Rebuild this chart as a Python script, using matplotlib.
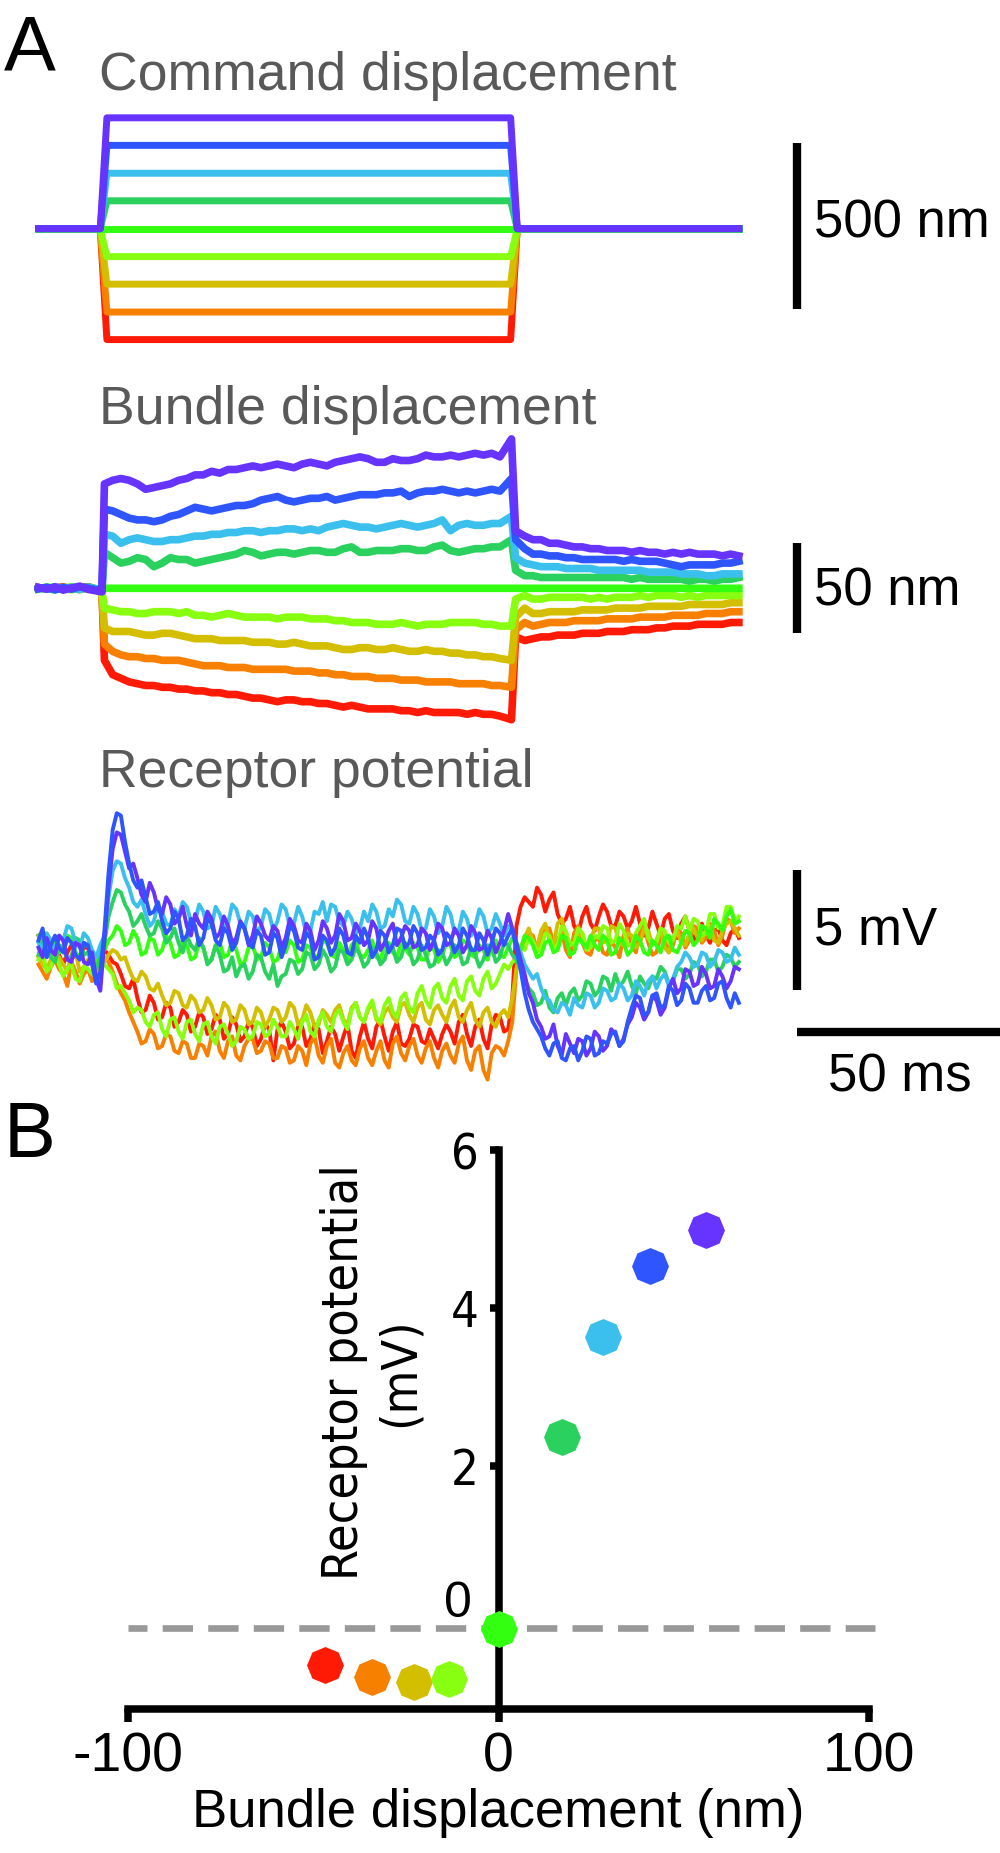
import numpy as np
import matplotlib.pyplot as plt

plt.rcParams['font.family'] = ['Liberation Sans', 'DejaVu Sans']

W, H = 1000, 1853

# trace colours, from the largest positive step (top) to the largest negative
colors = ['#6633ff', '#2f55ff', '#3bc0ee', '#2bd15e', '#33ff10',
          '#88ff10', '#d4be00', '#f78000', '#ff1a05']

# command displacement: step levels (nm) and step timing (ms)
cmd_levels = [334, 251, 167, 84, 0, -84, -167, -251, -334]
cmd_t = [0, 15.0, 16.6, 114.6, 116.2, 170]

# bundle displacement (nm), sampled every 2 ms (samples moved onto the step edges)
t_bd = np.arange(0, 171, 2.0)
t_bd[7] = 15.4
t_bd[57:59] = [114.8, 115.8]

bd_purple = [
    0.5, -0.5, 0.8, -1.0, 0.2, 1.2, -0.6, -2.0, 58, 60,
    61, 60, 58, 55, 56, 57, 58, 60, 61, 63,
    63, 65, 64, 66, 66, 67, 68, 67, 68, 69,
    68, 67, 69, 70, 69, 68, 70, 71, 72, 73,
    72, 70, 70, 72, 71, 71, 72, 74, 73, 73,
    74, 73, 74, 75, 74, 75, 73, 83, 32, 29,
    27, 27, 25, 25, 24, 23, 23, 22, 22, 21,
    21, 21, 20, 21, 20, 20, 19, 20, 19, 20,
    19, 19, 19, 18, 19, 18]
bd_blue = [
    -0.3, 0.6, -0.8, 0.4, -0.5, 0.9, 0.1, -1.5, 44, 43,
    41, 39, 38, 38, 37, 38, 40, 41, 43, 45,
    44, 43, 44, 45, 46, 46, 47, 49, 50, 51,
    49, 48, 49, 50, 50, 51, 49, 50, 51, 52,
    52, 52, 53, 53, 54, 51, 53, 54, 54, 55,
    54, 53, 54, 53, 54, 55, 54, 61, 27, 22,
    19, 19, 18, 18, 17, 17, 16, 16, 16, 16,
    16, 15, 16, 15, 15, 15, 14, 13, 12, 13,
    13, 13, 13, 14, 14, 15]
bd_lblue = [
    0.2, -0.4, 0.9, -0.2, 0.5, -0.7, 0.6, -1.2, 30, 29,
    25, 27, 28, 27, 26, 26, 27, 27, 28, 29,
    29, 30, 30, 31, 31, 32, 32, 31, 32, 32,
    33, 33, 32, 33, 32, 34, 35, 36, 35, 34,
    34, 33, 34, 35, 36, 35, 34, 35, 36, 38,
    32, 35, 36, 35, 35, 36, 36, 40, 17, 14,
    13, 12, 12, 12, 11, 11, 11, 11, 10, 10,
    10, 10, 10, 10, 9, 9, 9, 9, 8, 8,
    8, 7, 7, 8, 8, 8]
bd_green = [
    0.4, -0.2, -0.9, 0.6, 0.0, -0.5, 0.8, -1.0, 20, 17,
    14, 15, 17, 16, 12, 14, 17, 16, 16, 14,
    15, 16, 17, 18, 19, 21, 20, 18, 19, 20,
    20, 19, 20, 21, 21, 20, 20, 22, 23, 20,
    20, 21, 21, 21, 22, 22, 21, 21, 23, 24,
    21, 20, 21, 22, 22, 23, 23, 27, 10, 7,
    7, 6, 6, 6, 6, 6, 6, 6, 6, 6,
    6, 6, 5, 6, 5, 5, 5, 5, 5, 4,
    5, 5, 4, 5, 5, 6]
bd_bgreen = [
    -0.4, 0.7, 0.1, -0.6, 0.8, -0.2, 0.3, -1.2, 0, 0,
    0, 0, 0, 0, 0, 0, 0, 0, 0, 0,
    0, 0, 0, 0, 0, 0, 0, 0, 0, 0,
    0, 0, 0, 0, 0, 0, 0, 0, 0, 0,
    0, 0, 0, 0, 0, 0, 0, 0, 0, 0,
    0, 0, 0, 0, 0, 0, 0, 0, 0, 0,
    0, 0, 0, 0, 0, 0, 0, 0, 0, 0,
    0, 0, 0, 0, 0, 0, 0, 0, 0, 0,
    0, 0, 0, 0, 0, 0]
bd_ygreen = [
    0.3, -0.6, 0.5, -0.3, -0.8, 0.4, -0.2, -1.8, -11, -12,
    -13, -13, -14, -14, -13, -13, -13, -14, -13, -15,
    -15, -16, -15, -14, -15, -16, -16, -16, -16, -17,
    -16, -16, -16, -17, -17, -17, -18, -18, -19, -19,
    -19, -20, -20, -20, -19, -20, -21, -20, -20, -20,
    -19, -19, -19, -19, -20, -20, -21, -21, -6, -4,
    -6, -6, -5, -5, -5, -5, -5, -6, -5, -6,
    -5, -5, -5, -4, -5, -4, -4, -4, -5, -4,
    -5, -4, -4, -4, -4, -4]
bd_olive = [
    -0.2, 0.5, -0.7, 0.2, 0.6, -0.4, 0.1, -2.0, -22, -24,
    -24, -24, -25, -26, -26, -25, -25, -26, -27, -28,
    -28, -28, -29, -29, -29, -29, -30, -30, -30, -31,
    -31, -30, -31, -32, -32, -32, -33, -34, -34, -33,
    -33, -34, -34, -33, -34, -35, -35, -34, -35, -35,
    -36, -36, -37, -37, -38, -38, -39, -40, -16, -11,
    -14, -14, -13, -13, -13, -13, -12, -12, -12, -12,
    -11, -11, -11, -11, -10, -10, -10, -10, -10, -9,
    -9, -9, -9, -9, -8, -8]
bd_orange = [
    0.1, -0.3, 0.7, -0.5, 0.3, -0.8, 0.4, -1.6, -31, -35,
    -37, -38, -38, -39, -39, -40, -40, -40, -41, -42,
    -43, -43, -43, -44, -44, -44, -45, -45, -45, -45,
    -45, -46, -46, -46, -47, -47, -48, -48, -49, -49,
    -49, -50, -50, -50, -51, -51, -51, -52, -52, -52,
    -52, -53, -53, -53, -53, -54, -54, -55, -23, -19,
    -21, -20, -19, -19, -19, -18, -18, -18, -18, -17,
    -17, -17, -17, -16, -16, -16, -16, -15, -15, -15,
    -15, -14, -14, -14, -13, -13]
bd_red = [
    0.4, -0.2, 0.3, 0.8, -0.4, 0.2, 0.9, -1.4, -40, -48,
    -50, -52, -53, -54, -54, -55, -55, -56, -56, -57,
    -57, -58, -58, -59, -59, -60, -61, -61, -62, -63,
    -62, -62, -63, -63, -64, -64, -65, -66, -65, -66,
    -67, -67, -67, -67, -68, -68, -69, -68, -69, -69,
    -69, -69, -70, -69, -70, -70, -71, -73, -27, -29,
    -28, -27, -27, -26, -26, -26, -25, -25, -25, -24,
    -24, -24, -23, -23, -23, -22, -22, -21, -21, -21,
    -20, -20, -20, -20, -19, -19]

# receptor potential (mV), sampled every 1 ms
t_rp = np.arange(0, 171, 1.0)

rp_purple = [
    0.1, -0.3, 0.5, 0.0, -0.2, 0.6, 0.4, -0.4, -0.5, 0.3,
    0.2, -0.5, -0.6, -0.1, -1.2, -1.7, 0.4, 2.6, 4.2, 4.9,
    4.8, 4.1, 3.4, 3.6, 3.0, 2.3, 2.0, 2.8, 2.4, 1.7,
    1.5, 2.2, 1.9, 1.1, 1.3, 1.8, 1.0, 0.6, 1.5, 1.1,
    0.9, 1.6, 1.3, 0.5, 0.7, 1.4, 1.0, 0.3, 0.5, 1.2,
    0.9, 0.2, 0.6, 1.4, 1.1, 0.6, 0.4, 1.0, 0.8, 0.1,
    0.5, 1.3, 1.0, 0.4, 0.3, 1.1, 0.8, 0.0, 0.4, 1.2,
    0.9, 0.3, 0.6, 1.5, 1.2, 0.4, 0.5, 1.1, 0.8, 0.2,
    0.4, 1.2, 0.9, 0.0, 0.3, 0.8, 1.1, 0.2, 0.5, 1.0,
    0.8, 0.1, 0.2, 0.9, 0.7, 0.0, 0.4, 1.1, 0.9, 0.2,
    0.3, 0.9, 0.6, -0.1, 0.2, 1.0, 0.7, 0.0, 0.1, 0.8,
    0.5, -0.1, 0.3, 0.8, 1.5, 0.9, 0.3, -0.4, -1.0, -1.8,
    -2.2, -2.9, -3.2, -3.7, -3.6, -3.1, -4.0, -4.4, -3.5, -3.9,
    -4.3, -3.7, -3.8, -4.4, -4.1, -3.4, -3.6, -4.2, -4.0, -3.3,
    -3.5, -4.0, -3.7, -3.1, -2.8, -2.2, -2.4, -2.9, -2.6, -1.9,
    -2.1, -2.7, -2.4, -1.6, -1.2, -1.8, -1.6, -0.8, -0.9, -1.5,
    -1.4, -0.7, -1.0, -1.6, -1.5, -0.8, -1.1, -1.6, -1.3, -0.7,
    -0.8]
rp_blue = [
    0.4, 0.9, -0.3, 0.2, 0.6, 0.1, -0.1, 0.5, 0.3, -0.2,
    -0.4, 0.3, 0.2, -0.6, -1.4, -0.9, 0.8, 3.2, 5.0, 5.7,
    5.6, 4.5, 3.6, 2.9, 2.6, 2.9, 2.2, 1.5, 1.6, 2.0,
    1.2, 0.7, 0.9, 1.6, 1.3, 0.4, 0.6, 1.3, 1.0, 0.2,
    0.5, 1.3, 1.1, 0.4, 0.2, 0.9, 0.7, 0.0, 0.3, 1.1,
    0.9, 0.3, 0.1, 0.8, 0.6, -0.2, -0.1, 0.7, 0.5, -0.3,
    0.2, 1.0, 0.8, 0.1, 0.0, 0.7, 0.5, -0.4, -0.3, 0.6,
    0.4, -0.2, 0.1, 0.9, 0.6, -0.1, -0.2, 0.6, 0.3, 0.9,
    0.5, -0.3, 0.0, 0.8, 0.6, -0.1, 0.2, 0.9, 0.8, 0.1,
    0.3, 1.0, 0.7, 0.0, 0.1, 0.6, 0.4, -0.2, 0.0, 0.7,
    0.5, -0.1, 0.2, 0.9, 0.6, 0.0, 0.0, 0.7, 0.4, -0.2,
    0.3, 0.9, 0.7, 0.2, 0.6, 0.9, 0.0, -0.8, -1.8, -2.5,
    -3.0, -3.3, -3.6, -4.1, -4.4, -3.9, -3.8, -4.5, -4.6, -4.1,
    -4.0, -4.6, -4.2, -3.6, -3.7, -4.4, -4.3, -3.8, -3.9, -3.5,
    -3.4, -4.0, -3.8, -3.0, -2.4, -1.9, -2.0, -2.7, -2.6, -1.9,
    -1.8, -2.4, -2.3, -1.5, -1.7, -2.3, -2.1, -1.4, -1.6, -2.2,
    -2.2, -1.7, -1.5, -2.1, -2.0, -1.4, -1.3, -2.0, -2.4, -1.8,
    -2.2]
rp_lblue = [
    0.3, -0.1, 0.7, 0.4, 0.0, 0.6, 0.4, 1.0, 0.9, 0.3,
    0.1, 0.7, 0.5, 0.0, -0.3, 0.2, 0.6, 2.2, 3.3, 3.7,
    3.6, 3.0, 2.6, 2.0, 1.8, 2.1, 1.5, 1.0, 1.2, 1.9,
    1.6, 1.1, 1.0, 1.7, 1.4, 2.0, 1.8, 1.2, 1.2, 1.9,
    1.6, 0.9, 1.0, 1.8, 1.5, 0.9, 1.1, 1.9, 1.7, 1.1,
    0.9, 1.6, 1.4, 0.7, 1.0, 1.7, 1.5, 0.8, 1.2, 1.9,
    1.7, 1.0, 1.1, 1.8, 1.4, 0.7, 0.8, 1.6, 1.5, 2.0,
    1.2, 1.9, 1.8, 1.2, 1.0, 1.6, 1.3, 0.7, 0.9, 1.6,
    1.2, 1.9, 1.6, 0.9, 1.0, 1.7, 1.4, 2.1, 1.9, 1.2,
    1.1, 1.8, 1.5, 0.8, 0.9, 1.7, 1.4, 0.7, 1.0, 1.8,
    1.5, 0.7, 0.8, 1.6, 1.3, 0.6, 1.0, 1.7, 1.4, 0.7,
    0.9, 1.5, 1.1, 0.6, 1.0, 0.8, 0.2, -0.1, -0.6, -0.9,
    -1.2, -1.0, -1.6, -2.0, -2.1, -2.5, -2.6, -2.2, -2.3, -2.7,
    -2.0, -2.3, -2.4, -1.8, -1.9, -2.4, -2.2, -1.6, -1.7, -2.1,
    -2.0, -1.4, -1.6, -2.1, -1.9, -1.3, -1.5, -1.9, -1.3, -1.1,
    -1.6, -1.2, -1.0, -1.5, -1.2, -0.7, -0.5, -0.1, -0.3, -0.7,
    -0.6, -0.1, -0.2, -0.7, -0.5, 0.0, -0.1, -0.5, -0.4, 0.1,
    -0.2]
rp_green = [
    -0.2, 0.4, 0.3, -0.3, -0.5, 0.2, 0.1, -0.4, -0.3, 0.5,
    0.4, -0.2, -0.1, -0.6, -0.8, -0.3, 0.3, 1.4, 2.0, 2.5,
    2.4, 1.9, 1.6, 1.0, 1.2, 1.5, 1.0, 0.6, 0.7, 1.2,
    0.9, 0.3, 0.5, 0.9, 0.3, -0.1, 0.6, 0.2, 0.0, 0.5,
    0.1, -0.6, -0.4, 0.2, -0.2, -0.9, -0.8, -0.3, -1.1, -0.7,
    -0.6, -1.2, -0.9, -0.2, -0.3, -0.9, -1.2, -0.6, -1.5, -1.1,
    -1.0, -0.4, -0.5, -1.0, -0.8, -0.1, -0.2, -0.8, -0.6, 0.0,
    -0.3, -0.9, -0.7, 0.0, -0.1, -0.6, -0.4, 0.1, -0.2, -0.7,
    -0.5, 0.1, -0.1, -0.6, -0.4, 0.2, 0.1, -0.5, -0.3, 0.3,
    0.0, -0.6, -0.4, 0.2, -0.2, -0.7, -0.6, 0.0, -0.1, -0.6,
    -0.3, 0.2, 0.0, -0.6, -0.5, 0.1, -0.2, -0.7, -0.4, 0.2,
    0.1, -0.5, -0.3, 0.3, 0.2, -0.2, -0.4, -0.8, -1.2, -1.6,
    -1.8, -2.3, -2.2, -1.7, -2.4, -2.6, -2.0, -1.8, -2.3, -1.8,
    -1.6, -2.1, -1.9, -1.3, -1.4, -1.9, -1.7, -1.1, -1.2, -1.7,
    -1.0, -1.5, -1.3, -0.9, -1.5, -1.8, -1.1, -1.4, -1.6, -1.1,
    -1.2, -0.7, -0.9, -1.4, -1.3, -0.8, -0.8, -1.2, -1.0, -0.5,
    -0.6, -1.1, -0.9, -0.4, -0.4, -0.9, -0.7, -0.2, -0.3, -0.7,
    -0.5]
rp_bgreen = [
    0.6, 0.1, -0.2, 0.3, 0.4, -0.1, 0.0, 0.6, 0.5, -0.1,
    -0.3, 0.3, 0.2, -0.3, -0.5, 0.1, 0.0, 0.4, 0.6, 1.0,
    0.8, 0.2, 0.3, 0.8, 0.5, -0.2, -0.1, 0.5, 0.4, -0.2,
    0.0, 0.6, 0.3, -0.3, -0.2, 0.4, 0.2, -0.4, -0.3, 0.3,
    0.1, -0.5, -0.4, 0.2, 0.3, -0.3, -0.2, 0.4, 0.0, -0.6,
    -0.5, 0.1, 0.2, -0.4, -0.3, 0.3, 0.1, -0.5, -0.4, 0.2,
    -0.1, 0.4, 0.2, -0.5, -0.4, 0.2, 0.1, -0.4, -0.2, 0.4,
    0.3, -0.2, -0.3, 0.3, 0.0, -0.4, 0.2, 0.4, -0.2, -0.3,
    0.0, 0.4, -0.3, -0.4, 0.2, 0.3, -0.1, -0.3, 0.3, 0.1,
    -0.2, 0.3, 0.1, -0.4, -0.4, 0.2, 0.0, -0.5, -0.2, 0.3,
    0.2, -0.3, -0.1, 0.4, 0.3, -0.2, -0.3, 0.2, 0.0, -0.4,
    0.2, 0.4, -0.2, -0.3, 0.1, 0.5, 0.3, 0.0, 0.6, 0.5,
    0.2, -0.3, -0.2, 0.3, 0.4, -0.1, 0.0, 0.6, 0.5, -0.2,
    -0.1, 0.5, 0.3, 0.1, 0.6, 0.2, 0.0, 0.6, 0.4, -0.2,
    -0.1, 0.5, 0.3, -0.2, 0.0, 0.6, 0.4, -0.1, -0.2, 0.4,
    0.2, -0.1, 0.5, 0.6, 0.0, -0.1, 0.3, 0.8, 0.7, 0.2,
    0.4, 1.0, 0.9, 0.5, 1.3, 1.1, 0.8, 1.4, 1.7, 1.1,
    1.2]
rp_ygreen = [
    -0.4, -0.1, -0.9, -0.7, -0.2, -0.6, -1.1, -0.8, -0.6, -1.2,
    -1.3, -0.7, -0.8, -1.0, -0.5, -0.4, -0.6, -0.8, -1.0, -1.6,
    -1.5, -1.8, -2.1, -2.6, -2.4, -2.5, -3.0, -3.2, -2.7, -2.6,
    -3.3, -3.6, -2.9, -2.8, -3.4, -3.7, -3.0, -2.9, -3.5, -3.8,
    -3.1, -3.0, -3.6, -3.9, -3.2, -3.1, -3.5, -4.0, -3.8, -3.2,
    -3.3, -3.7, -3.6, -3.0, -3.1, -3.6, -3.5, -2.9, -3.2, -3.6,
    -3.6, -3.0, -3.3, -3.7, -3.0, -2.7, -3.4, -3.6, -2.9, -2.6,
    -3.2, -3.4, -2.7, -2.5, -3.0, -3.3, -2.5, -2.2, -2.8, -3.0,
    -2.4, -2.1, -2.8, -3.0, -2.3, -2.0, -2.6, -2.8, -2.0, -1.8,
    -2.4, -2.6, -1.8, -1.5, -2.1, -2.4, -1.6, -1.4, -2.0, -2.2,
    -1.5, -1.2, -1.9, -2.1, -1.3, -1.1, -1.7, -1.9, -1.2, -0.9,
    -1.6, -1.4, -1.0, -0.6, -0.8, -0.5, -0.4, 0.1, 0.0, 0.5,
    0.4, -0.1, 0.1, 0.7, 0.6, 0.0, 0.2, 1.0, 0.8, 0.2,
    0.3, 0.9, 0.7, 0.0, 0.1, 0.6, 0.5, 1.0, 0.9, 0.3,
    0.4, 1.1, 0.8, 0.2, 0.2, 0.7, 1.0, 1.3, 0.5, 0.2,
    0.3, 0.9, 0.8, 0.3, 0.4, 1.0, 0.9, 1.4, 0.8, 1.3,
    1.2, 0.6, 0.7, 1.5, 1.5, 0.9, 1.0, 1.8, 1.8, 1.2,
    1.4]
rp_olive = [
    -0.3, -0.6, -0.8, -0.4, -0.1, -0.3, -0.6, -0.9, -0.2, -0.1,
    -0.9, -0.7, -0.4, -0.6, -1.0, -0.8, -0.5, -0.2, 0.0, -0.1,
    -0.4, -0.3, -0.8, -1.2, -1.3, -0.9, -1.1, -1.6, -1.7, -1.4,
    -1.9, -2.3, -2.2, -1.7, -1.8, -2.3, -2.4, -1.9, -2.1, -2.6,
    -2.5, -2.0, -2.3, -2.9, -2.8, -2.2, -2.4, -3.0, -2.9, -2.3,
    -2.5, -3.1, -3.0, -2.4, -2.6, -3.2, -2.9, -2.4, -2.5, -3.0,
    -2.8, -2.2, -2.4, -3.1, -2.9, -2.3, -2.6, -3.2, -3.1, -2.5,
    -2.7, -3.0, -2.5, -2.3, -2.9, -3.1, -2.4, -2.2, -2.8, -3.0,
    -2.5, -2.2, -2.9, -3.1, -2.6, -2.4, -2.8, -3.0, -2.3, -2.2,
    -2.7, -3.0, -2.4, -2.2, -2.9, -3.1, -2.5, -2.3, -2.7, -3.0,
    -2.4, -2.1, -2.8, -3.0, -2.5, -2.2, -2.9, -3.2, -2.6, -2.4,
    -3.0, -3.2, -2.7, -2.5, -2.8, -2.0, -0.8, 0.1, 0.5, 0.9,
    0.3, 0.1, 0.8, 1.1, 0.4, 0.2, 1.1, 1.3, 0.6, 0.3,
    0.2, 0.6, 0.7, 0.1, 0.4, 0.9, 0.9, 0.3, 0.4, 1.0,
    0.9, 0.3, 0.2, 0.7, 0.6, 0.1, 0.3, 0.9, 0.8, 0.2,
    0.4, 0.9, 0.1, -0.1, 0.5, 0.8, 0.3, 0.2, 0.7, 0.9,
    0.5, 0.4, 0.9, 1.0, 0.4, 0.3, 0.8, 1.1, 1.2, 0.9,
    0.6]
rp_orange = [
    -0.6, -0.9, -1.2, -0.7, -0.4, -0.8, -1.0, -1.5, -0.5, -0.9,
    -1.4, -1.0, -0.8, -1.3, -1.1, -0.6, -0.3, -0.5, -0.9, -1.4,
    -1.8, -2.1, -2.6, -3.0, -3.4, -3.9, -3.8, -3.3, -3.5, -4.1,
    -4.0, -3.5, -3.6, -4.2, -4.3, -3.8, -3.9, -4.5, -4.5, -3.9,
    -4.0, -4.4, -3.6, -3.4, -4.2, -4.5, -3.8, -3.6, -4.4, -4.6,
    -4.0, -3.7, -3.7, -4.3, -4.2, -3.8, -3.9, -4.5, -4.5, -4.0,
    -4.1, -4.7, -4.6, -4.0, -4.2, -4.8, -3.9, -3.6, -4.4, -4.7,
    -4.0, -3.7, -4.7, -4.9, -4.3, -4.0, -4.6, -4.8, -4.1, -3.8,
    -4.5, -4.8, -4.2, -3.8, -4.6, -4.9, -3.9, -3.6, -4.3, -4.6,
    -4.0, -3.7, -4.4, -4.7, -4.1, -3.8, -4.5, -4.9, -4.2, -3.9,
    -4.4, -4.7, -3.9, -3.6, -4.6, -5.0, -4.2, -4.0, -5.0, -5.4,
    -4.3, -4.0, -4.1, -4.4, -3.8, -3.0, -0.8, 0.0, 0.3, 0.7,
    0.6, 0.0, 0.2, 0.9, 0.9, 0.3, 0.4, 0.8, 0.0, -0.3,
    0.7, 1.0, 0.3, -0.1, -0.2, 0.4, 0.5, -0.1, -0.2, 0.4,
    0.1, -0.3, 0.6, 0.9, 0.2, -0.1, 0.8, 1.0, 0.3, -0.2,
    -0.1, 0.6, 0.5, -0.1, 0.2, 0.9, 0.7, 0.1, 0.4, 1.0,
    0.9, 0.3, 0.5, 1.1, 0.8, 0.2, 0.6, 1.3, 1.2, 0.7,
    0.9]
rp_red = [
    0.6, 0.2, -0.3, 0.1, 0.4, -0.2, -0.6, -0.1, 0.2, -0.3,
    -0.4, 0.1, 0.1, -0.5, -0.8, -0.2, 0.0, -0.2, -0.5, -0.6,
    -1.0, -1.5, -1.6, -1.2, -2.0, -2.6, -2.5, -1.9, -2.2, -2.9,
    -2.8, -2.2, -2.4, -3.2, -3.0, -2.5, -2.7, -3.4, -3.2, -2.6,
    -2.8, -3.5, -3.3, -2.7, -2.9, -3.7, -3.5, -2.8, -3.1, -3.8,
    -3.6, -3.0, -3.2, -4.0, -3.7, -3.1, -3.3, -4.6, -3.3, -3.0,
    -3.4, -4.1, -3.9, -3.2, -3.2, -4.0, -3.7, -3.1, -3.3, -4.3,
    -3.8, -3.2, -3.5, -4.2, -3.6, -3.1, -4.2, -4.5, -3.6, -3.0,
    -3.7, -4.1, -3.2, -2.9, -3.6, -4.2, -3.4, -3.0, -3.9, -4.0,
    -3.7, -3.1, -3.2, -3.8, -3.9, -3.3, -3.7, -4.1, -3.5, -3.1,
    -3.4, -3.9, -3.0, -2.7, -3.5, -4.0, -3.2, -2.9, -3.7, -4.1,
    -3.1, -2.7, -2.8, -3.4, -3.3, -2.0, 1.0, 1.8, 2.2, 2.0,
    1.8, 2.6, 2.3, 1.6, 2.1, 2.4, 1.5, 1.1, 1.3, 1.8,
    1.0, 0.7, 1.4, 1.8, 1.1, 0.8, 1.4, 1.9, 1.6, 1.0,
    1.0, 1.6, 1.4, 0.9, 1.2, 1.8, 1.1, 0.6, 0.9, 1.6,
    1.1, 0.6, 1.3, 1.5, 0.8, 0.5, 1.1, 1.4, 0.8, 0.4,
    0.9, 1.1, 0.6, 0.3, 0.8, 0.9, 0.4, 0.2, 0.7, 0.9,
    0.5]

bundle = [bd_purple, bd_blue, bd_lblue, bd_green, bd_bgreen,
          bd_ygreen, bd_olive, bd_orange, bd_red]
receptor = [rp_purple, rp_blue, rp_lblue, rp_green, rp_bgreen,
            rp_ygreen, rp_olive, rp_orange, rp_red]
rp_order = [8, 7, 6, 5, 4, 3, 2, 0, 1]

# panel B: receptor potential vs bundle displacement
b_disp = [56.0, 40.9, 28.2, 17.2, 0.2, -13.3, -22.9, -34.1, -46.8]
b_pot = [4.99, 4.53, 3.63, 2.37, -0.07, -0.70, -0.74, -0.67, -0.52]
b_rest = -0.06

fig = plt.figure(figsize=(W / 100, H / 100), dpi=100)


def px_axes(left, top, right, bottom):
    return fig.add_axes([left / W, 1 - bottom / H, (right - left) / W, (bottom - top) / H])


def fig_xy(x, y):
    return x / W, 1 - y / H


# shared time scale for panel A: 4.12 px per ms, t=0 at x=38.5 px
xl = (-38.5 / 4.12, (W - 38.5) / 4.12)
bar_t = (797 - 38.5) / 4.12
txt_t = (814 - 38.5) / 4.12
gray = '#595959'

# ---- command displacement
ax1 = px_axes(0, 60, W, 380)
ax1.set_xlim(xl)
ax1.set_ylim((228.7 - 380) / 0.332, (228.7 - 60) / 0.332)
ax1.axis('off')
for lvl, c in list(zip(cmd_levels, colors))[::-1]:
    ax1.plot(cmd_t, [0, 0, lvl, lvl, 0, 0], color=c, lw=5, clip_on=False)
ax1.plot([bar_t, bar_t], [-242, 258], color='k', lw=6, solid_capstyle='butt', clip_on=False)
ax1.text(txt_t, -28, '500 nm', fontsize=38, va='baseline', ha='left')

# ---- bundle displacement
ax2 = px_axes(0, 400, W, 760)
ax2.set_xlim(xl)
ax2.set_ylim((588.3 - 760) / 1.8, (588.3 - 400) / 1.8)
ax2.axis('off')
for y, c in list(zip(bundle, colors))[::-1]:
    ax2.plot(t_bd, y, color=c, lw=5.5, clip_on=False)
ax2.plot([bar_t, bar_t], [-25, 25], color='k', lw=6, solid_capstyle='butt', clip_on=False)
ax2.text(txt_t, -9.8, '50 nm', fontsize=38, va='baseline', ha='left')

# ---- receptor potential
ax3 = px_axes(0, 780, W, 1110)
ax3.set_xlim(xl)
ax3.set_ylim((950 - 1110) / 24, (950 - 780) / 24)
ax3.axis('off')
for i in rp_order:
    ax3.plot(t_rp, receptor[i], color=colors[i], lw=2.8, clip_on=False)
ax3.plot([bar_t, bar_t], [-1.67, 3.33], color='k', lw=6, solid_capstyle='butt', clip_on=False)
ax3.text(txt_t, 0.21, '5 mV', fontsize=38, va='baseline', ha='left')
ax3.plot([bar_t, bar_t + 50], [-3.4, -3.4], color='k', lw=6, solid_capstyle='butt', clip_on=False)
ax3.text(bar_t + 25, -5.9, '50 ms', fontsize=38, va='baseline', ha='center')

fig.text(*fig_xy(99, 90), 'Command displacement', fontsize=38.5, color=gray, va='baseline')
fig.text(*fig_xy(99, 424), 'Bundle displacement', fontsize=38.5, color=gray, va='baseline')
fig.text(*fig_xy(99, 787), 'Receptor potential', fontsize=38.5, color=gray, va='baseline')
fig.text(*fig_xy(4, 71), 'A', fontsize=56, va='baseline')
fig.text(*fig_xy(4, 1157), 'B', fontsize=56, va='baseline')

# ---- panel B
axb = px_axes(128, 1150, 869, 1709)
axb.set_xlim(-100, 100)
axb.set_ylim(-1.08, 6)
for s in ['top', 'right']:
    axb.spines[s].set_visible(False)
axb.spines['left'].set_position(('data', 0))
for s in ['left', 'bottom']:
    axb.spines[s].set_linewidth(5.4)
axb.set_xticks([-100, 0, 100])
axb.set_xticklabels(['-100', '0', '100'])
axb.set_yticks([0, 2, 4, 6])
axb.set_yticklabels(['', '2', '4', '6'], family='DejaVu Sans', fontstretch='condensed')
axb.tick_params(axis='x', length=9.5, width=5.4, pad=7, labelsize=40)
axb.tick_params(axis='y', length=6.5, width=5.4, pad=8, labelsize=35)
axb.text(-7.15, 0.09, '0', fontsize=36, ha='right', va='baseline')

axb.plot([-100, 101.5], [b_rest, b_rest], color='#999999', lw=4.8,
         linestyle=(1.7, (4.55, 2.28)), dash_capstyle='butt', clip_on=False)
for x, y, c in list(zip(b_disp, b_pot, colors))[::-1]:
    axb.plot(x, y, marker=(8, 0, 0), ms=26.6, color=c, mec='none', zorder=5, clip_on=False)

fig.text(*fig_xy(498.5, 1826.7), 'Bundle displacement (nm)', fontsize=38, ha='center', va='baseline')
fig.text(*fig_xy(372, 1372), 'Receptor potential\n(mV)', fontsize=36, rotation=90,
         ha='center', va='center', multialignment='center',
         family='DejaVu Sans', fontstretch='condensed')

fig.savefig('out.png', dpi=100)
